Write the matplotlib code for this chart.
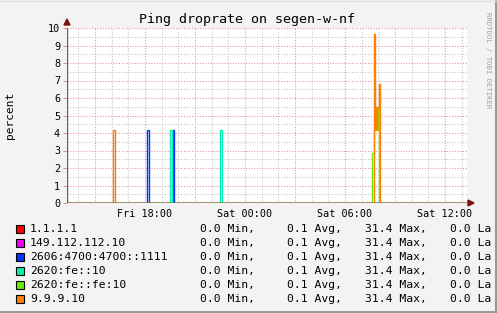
import numpy as np
import matplotlib
matplotlib.use("Agg")
import matplotlib.pyplot as plt
from matplotlib.patches import Rectangle, Polygon
from matplotlib.lines import Line2D

# time in hours since Fri 00:00, values in percent (step data)
t_start, t_end = 13.32, 37.32

series_names = ["1.1.1.1", "149.112.112.10", "2606:4700:4700::1111",
                "2620:fe::10", "2620:fe::fe:10", "9.9.9.10"]
series_colors = ["#FF0000", "#EE00EE", "#0033FF", "#00F0B0", "#66EE00", "#FF7F00"]

# breakpoints (hour) and value that holds from that point on
red_t = [t_start]
red_v = [0.0]
magenta_t = [t_start]
magenta_v = [0.0]
blue_t = [t_start, 18.10, 18.22, 19.67, 19.77]
blue_v = [0.0, 4.17, 0.0, 4.17, 0.0]
cyan_t = [t_start, 19.52, 19.60, 22.52, 22.60]
cyan_v = [0.0, 4.17, 0.0, 4.17, 0.0]
green_t = [t_start, 31.63, 31.76, 31.88, 31.99, 32.06]
green_v = [0.0, 2.86, 4.17, 4.17, 5.5, 0.0]
orange_t = [t_start, 16.10, 16.18, 31.72, 31.80, 31.83, 31.86, 31.89, 31.92, 31.95, 32.02, 32.10]
orange_v = [0.0, 4.17, 0.0, 9.66, 4.17, 5.5, 4.17, 5.5, 4.17, 5.5, 6.8, 0.0]

series_t = [red_t, magenta_t, blue_t, cyan_t, green_t, orange_t]
series_v = [red_v, magenta_v, blue_v, cyan_v, green_v, orange_v]

stat_min = ["0.0"] * 6
stat_avg = ["0.1"] * 6
stat_max = ["31.4"] * 6
stat_last = ["0.0"] * 6

tick_hours = [18, 24, 30, 36]
tick_labels = ["Fri 18:00", "Sat 00:00", "Sat 06:00", "Sat 12:00"]

mono = "DejaVu Sans Mono"
W, H = 497, 313
fig = plt.figure(figsize=(W / 100, H / 100), dpi=100)
fig.patch.set_facecolor("#F3F3F3")

# axes box in pixels
x0, x1, y0, y1 = 67, 467, 203, 28
ax = fig.add_axes([x0 / W, (H - y0) / H, (x1 - x0) / W, (y0 - y1) / H])
ax.set_facecolor("white")
ax.set_xlim(t_start, t_end)
ax.set_ylim(0, 10)
for s in ax.spines.values():
    s.set_visible(False)

# grid: minor gray, major red dotted
for h in np.arange(14, 38, 1):
    c = "#E89090" if h % 3 == 0 else "#C4C4C4"
    ax.axvline(h, color=c, lw=0.75, ls=(0, (1, 1.6)), zorder=1)
for v in np.arange(0.5, 10.01, 0.5):
    c = "#E89090" if v % 1 == 0 else "#C4C4C4"
    ax.axhline(v, color=c, lw=0.75, ls=(0, (1, 1.6)), zorder=1)

for t, v, c in zip(series_t, series_v, series_colors):
    tt = list(t) + [t_end]
    vv = list(v) + [v[-1]]
    ax.step(tt, vv, where="post", color=c, lw=1.0, zorder=3, solid_joinstyle="miter")

# axes lines
ax.axhline(0, color="#7A3010", lw=1.0, zorder=4)
ax.axvline(t_start, color="#606060", lw=1.0, zorder=4)

ax.set_xticks(tick_hours)
ax.set_xticklabels(tick_labels, fontfamily=mono, fontsize=7.3)
ax.set_yticks(range(0, 11))
ax.set_yticklabels([str(i) for i in range(0, 11)], fontfamily=mono, fontsize=7.3)
ax.tick_params(axis="x", length=0, pad=4)
ax.tick_params(axis="y", length=3, width=0.6, color="#D08080", pad=2)

# arrows
fig.patches.append(Polygon([[(x0 - 3) / W, (H - 25) / H], [(x0 + 3) / W, (H - 25) / H],
                            [x0 / W, (H - 19) / H]], closed=True,
                           transform=fig.transFigure, color="#7A1010"))
fig.patches.append(Polygon([[(x1 + 1) / W, (H - y0 - 3) / H], [(x1 + 1) / W, (H - y0 + 3) / H],
                            [(x1 + 7) / W, (H - y0) / H]], closed=True,
                           transform=fig.transFigure, color="#7A1010"))

fig.text(247 / W, 1 - 19 / H, "Ping droprate on segen-w-nf", fontfamily=mono,
         fontsize=9.6, ha="center", va="center", color="#000000")
fig.text(10 / W, 1 - 115 / H, "percent", fontfamily=mono, fontsize=8,
         rotation=90, ha="center", va="center")
fig.text(488 / W, 1 - 60 / H, "RRDTOOL / TOBI OETIKER", fontfamily=mono, fontsize=5.2,
         rotation=-90, ha="center", va="center", color="#A0A0A0")

# legend
for i, name in enumerate(series_names):
    yc = 229 + 14 * i
    fig.patches.append(Rectangle((16 / W, 1 - (yc + 4) / H), 8 / W, 8 / H,
                                 transform=fig.transFigure, facecolor=series_colors[i],
                                 edgecolor="black", lw=0.8))
    fig.text(30 / W, 1 - yc / H, name, fontfamily=mono, fontsize=8.2, va="center")
    fig.text(200 / W, 1 - yc / H, stat_min[i] + " Min,", fontfamily=mono, fontsize=8.2, va="center")
    fig.text(287 / W, 1 - yc / H, stat_avg[i] + " Avg,", fontfamily=mono, fontsize=8.2, va="center")
    fig.text(365 / W, 1 - yc / H, stat_max[i] + " Max,", fontfamily=mono, fontsize=8.2, va="center")
    # the reference image cuts this column at the right edge
    fig.text(450 / W, 1 - yc / H, stat_last[i] + " La", fontfamily=mono, fontsize=8.2, va="center")

# frame shadow
fig.add_artist(Line2D([0, 1], [1.5 / H, 1.5 / H], transform=fig.transFigure, color="#9A9A9A", lw=2.2))
fig.add_artist(Line2D([1 - 1.5 / W, 1 - 1.5 / W], [0, 1], transform=fig.transFigure, color="#9A9A9A", lw=2.2))
fig.add_artist(Line2D([0, 1], [1 - 0.5 / H, 1 - 0.5 / H], transform=fig.transFigure, color="#E0E0E0", lw=1))

fig.savefig("out.png", dpi=100, facecolor=fig.get_facecolor())
